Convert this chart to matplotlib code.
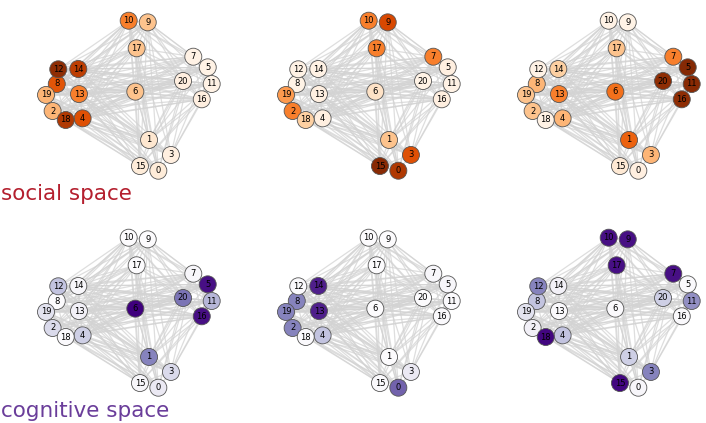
import matplotlib
matplotlib.use("Agg")
import matplotlib.pyplot as plt
from matplotlib.collections import LineCollection

# node layout (shared by all panels), normalised units
node_x = [0.678, 0.622, 0.040, 0.754, 0.221, 0.976, 0.539, 0.889, 0.065, 0.614, 0.499,
          1.000, 0.074, 0.199, 0.195, 0.567, 0.940, 0.547, 0.119, 0.000, 0.827]
node_y = [0.000, 0.205, 0.398, 0.105, 0.349, 0.689, 0.527, 0.760, 0.578, 0.989, 1.000,
          0.578, 0.676, 0.511, 0.678, 0.031, 0.476, 0.816, 0.338, 0.505, 0.598]

# neighbours of each node (only higher ids)
neighbours = {
    0: [1, 2, 3, 4, 6, 7, 8, 9, 10, 12, 13, 14, 15, 17, 18, 19, 20],
    1: [2, 3, 4, 5, 6, 7, 8, 10, 11, 12, 13, 14, 15, 16, 17, 18, 19, 20],
    2: [3, 4, 5, 6, 7, 8, 9, 10, 11, 13, 15, 16, 17, 18, 19, 20],
    3: [4, 5, 7, 8, 9, 11, 12, 13, 14, 15, 16, 17, 18, 19],
    4: [5, 6, 7, 8, 9, 10, 11, 12, 13, 14, 15, 16, 17, 19, 20],
    5: [6, 7, 8, 9, 10, 11, 12, 13, 14, 16, 18, 19, 20],
    6: [7, 8, 9, 10, 11, 12, 13, 14, 15, 16, 17, 18, 19, 20],
    7: [8, 9, 10, 11, 12, 13, 14, 16, 17, 18, 19, 20],
    8: [9, 10, 11, 12, 13, 14, 16, 17, 18, 19, 20],
    9: [10, 11, 12, 13, 14, 15, 16, 17, 19, 20],
    10: [11, 12, 13, 14, 15, 16, 17, 18, 19, 20],
    11: [12, 13, 14, 15, 16, 17, 18, 19, 20],
    12: [13, 14, 15, 16, 17, 19, 20],
    13: [14, 15, 16, 17, 18, 19, 20],
    14: [15, 16, 17, 18, 19, 20],
    15: [16, 17, 18, 19, 20],
    16: [17, 18, 19, 20],
    17: [18, 19, 20],
    18: [19, 20],
    19: [20],
}

# node intensities per panel (index = node id)
social_1 = [0.08, 0.12, 0.35, 0.05, 0.72, 0.03, 0.30, 0.03, 0.70, 0.30, 0.55,
            0.03, 0.95, 0.55, 0.82, 0.08, 0.05, 0.30, 0.85, 0.35, 0.05]
social_2 = [0.85, 0.30, 0.55, 0.72, 0.05, 0.05, 0.15, 0.55, 0.02, 0.75, 0.55,
            0.03, 0.03, 0.05, 0.03, 0.97, 0.05, 0.55, 0.25, 0.45, 0.02]
social_3 = [0.05, 0.65, 0.30, 0.35, 0.35, 0.98, 0.60, 0.55, 0.35, 0.02, 0.03,
            0.97, 0.03, 0.55, 0.25, 0.10, 0.95, 0.30, 0.03, 0.30, 0.95]
cognitive_1 = [0.15, 0.60, 0.25, 0.25, 0.30, 0.95, 1.00, 0.05, 0.00, 0.00, 0.00,
               0.40, 0.35, 0.10, 0.05, 0.05, 0.95, 0.00, 0.02, 0.20, 0.65]
cognitive_2 = [0.70, 0.00, 0.60, 0.15, 0.35, 0.05, 0.00, 0.05, 0.60, 0.00, 0.00,
               0.02, 0.02, 0.90, 0.90, 0.02, 0.02, 0.00, 0.02, 0.60, 0.00]
cognitive_3 = [0.05, 0.30, 0.10, 0.60, 0.35, 0.02, 0.02, 0.95, 0.35, 0.95, 0.95,
               0.55, 0.60, 0.02, 0.10, 0.98, 0.02, 0.95, 0.98, 0.20, 0.30]

rows = [("social space", "#b41f2e", "Oranges", [social_1, social_2, social_3]),
        ("cognitive space", "#6a3d9a", "Purples", [cognitive_1, cognitive_2, cognitive_3])]

W, H = 706, 423
fig = plt.figure(figsize=(W / 100, H / 100), dpi=100)

segs = [[(node_x[i], node_y[i]), (node_x[j], node_y[j])]
        for i, nb in neighbours.items() for j in nb]

for r, (label, tcol, cmap, panels) in enumerate(rows):
    top = 20.7 + r * 217
    for c, vals in enumerate(panels):
        left = 46 + c * 240
        ax = fig.add_axes([left / W, 1 - (top + 150) / H, 165.7 / W, 150 / H])
        ax.set_xlim(0, 1)
        ax.set_ylim(0, 1)
        ax.axis("off")
        ax.add_collection(LineCollection(segs, colors="#d3d3d3", linewidths=0.9,
                                         alpha=0.75, zorder=1, clip_on=False))
        ax.scatter(node_x, node_y, c=vals, cmap=cmap, vmin=0, vmax=1, s=150,
                   edgecolors="#555555", linewidths=0.6, zorder=2, clip_on=False)
        for n in range(len(node_x)):
            ax.text(node_x[n], node_y[n], str(n), ha="center", va="center",
                    fontsize=6, color="black", zorder=3)
    fig.text(1 / W, 1 - (top + 179) / H, label, color=tcol, fontsize=15.5,
             ha="left", va="baseline")

fig.savefig("out.png", dpi=100)
